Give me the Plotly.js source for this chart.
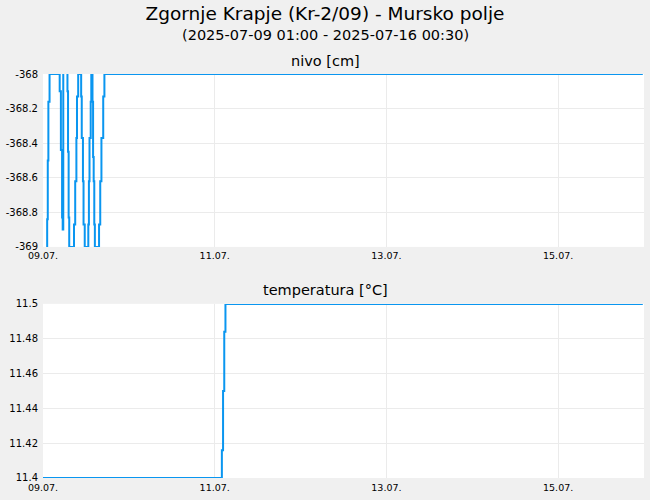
<!DOCTYPE html>
<html>
<head>
<meta charset="utf-8">
<script src="https://cdn.plot.ly/plotly-3.0.1.min.js"></script>
<style>
  html, body { margin: 0; padding: 0; background: #f0f0f0; }
  #chart { width: 650px; height: 500px; }
</style>
</head>
<body>
<div id="chart"></div>
<script>
// ── data ──
const nivoTime = [
  '2025-07-09 01:00', '2025-07-09 01:10', '2025-07-09 01:20', '2025-07-09 01:30', '2025-07-09 01:50',
  '2025-07-09 04:40', '2025-07-09 05:00', '2025-07-09 05:20', '2025-07-09 05:30', '2025-07-09 05:40',
  '2025-07-09 05:50',
  '2025-07-09 06:40', '2025-07-09 06:50', '2025-07-09 07:00', '2025-07-09 07:10', '2025-07-09 07:20',
  '2025-07-09 08:40', '2025-07-09 09:00', '2025-07-09 09:20', '2025-07-09 09:30', '2025-07-09 09:50',
  '2025-07-09 10:40', '2025-07-09 10:50', '2025-07-09 11:10', '2025-07-09 11:20', '2025-07-09 11:40',
  '2025-07-09 12:40', '2025-07-09 12:50', '2025-07-09 13:00', '2025-07-09 13:20', '2025-07-09 13:30',
  '2025-07-09 13:50', '2025-07-09 14:00', '2025-07-09 14:10', '2025-07-09 14:20', '2025-07-09 14:30',
  '2025-07-09 15:40', '2025-07-09 16:00', '2025-07-09 16:20', '2025-07-09 16:50', '2025-07-09 17:10',
  '2025-07-15 23:40'
];
const nivoVal = [
  -369, -368.84, -368.5, -368.16, -368,
  -368.1, -368.44, -368.83, -368.9, -368,
  null,
  -368, -368.1, -368.45, -368.83, -369,
  -368.87, -368.62, -368.37, -368.13, -368,
  -368.13, -368.37, -368.62, -368.87, -369,
  -368.87, -368.62, -368.37, -368.16, -368,
  -368.16, -368.48, -368.62, -368.87, -369,
  -368.87, -368.62, -368.37, -368.13, -368,
  -368
];

const tempTime = [
  '2025-07-09 00:00', '2025-07-11 02:00', '2025-07-11 02:20', '2025-07-11 02:40', '2025-07-11 03:00',
  '2025-07-15 23:40'
];
const tempVal = [11.4, 11.416, 11.45, 11.484, 11.5, 11.5];

const xTicks     = ['2025-07-09', '2025-07-11', '2025-07-13', '2025-07-15'];
const xTickText  = ['09.07.', '11.07.', '13.07.', '15.07.'];
const nivoTicks  = [-369, -368.8, -368.6, -368.4, -368.2, -368];
const nivoText   = ['-369', '-368.8', '-368.6', '-368.4', '-368.2', '-368'];
const tempTicks  = [11.4, 11.42, 11.44, 11.46, 11.48, 11.5];
const tempText   = ['11.4', '11.42', '11.44', '11.46', '11.48', '11.5'];

const LINE = '#0a96f0';
const GRID = '#ebebeb';
const FONT = 'DejaVu Sans, sans-serif';
const xRange = ['2025-07-09 00:00', '2025-07-16 00:00'];
// centre of the whole canvas, in paper units (plot area runs 43..644)
const MID = (325 - 43) / 601;

function xAxis(anchor) {
  return {
    anchor, type: 'date', range: xRange,
    tickvals: xTicks, ticktext: xTickText,
    showgrid: true, gridcolor: GRID, gridwidth: 1,
    zeroline: false, showline: false, ticks: '',
    ticklabelstandoff: 2,
    tickfont: { size: 9.5, color: '#000' },
  };
}

function yAxis(anchor, domain, range, vals, text) {
  return {
    anchor, domain, range,
    tickvals: vals, ticktext: text,
    showgrid: true, gridcolor: GRID, gridwidth: 1,
    zeroline: false, showline: false, ticks: '',
    ticklabelstandoff: 4,
    tickfont: { size: 10, color: '#000' },
  };
}

const traces = [
  {
    type: 'scatter', mode: 'lines', x: nivoTime, y: nivoVal,
    xaxis: 'x', yaxis: 'y', connectgaps: false,
    line: { color: LINE, width: 2, shape: 'hv' },
  },
  {
    type: 'scatter', mode: 'lines', x: tempTime, y: tempVal,
    xaxis: 'x2', yaxis: 'y2',
    line: { color: LINE, width: 2, shape: 'hv' },
  },
];

const layout = {
  width: 650, height: 500,
  paper_bgcolor: '#f0f0f0', plot_bgcolor: '#ffffff',
  font: { family: FONT, color: '#000' },
  showlegend: false,
  margin: { l: 43, r: 6, t: 74, b: 22 },
  title: {
    text: 'Zgornje Krapje (Kr-2/09) - Mursko polje',
    font: { size: 18.5, family: FONT, color: '#000' },
    x: 0.5, xanchor: 'center', y: 0.972, yanchor: 'middle',
  },
  xaxis: xAxis('y'),
  xaxis2: xAxis('y2'),
  yaxis: yAxis('x', [0.572, 1], [-369, -368], nivoTicks, nivoText),
  yaxis2: yAxis('x2', [0, 0.431], [11.4, 11.5], tempTicks, tempText),
  annotations: [
    { text: '(2025-07-09 01:00 - 2025-07-16 00:30)', xref: 'paper', yref: 'paper',
      x: MID, y: 1.097, xanchor: 'center', yanchor: 'middle', showarrow: false,
      font: { size: 14.5, family: FONT, color: '#000' } },
    { text: 'nivo [cm]', xref: 'paper', yref: 'paper',
      x: MID, y: 1.033, xanchor: 'center', yanchor: 'middle', showarrow: false,
      font: { size: 14.5, family: FONT, color: '#000' } },
    { text: 'temperatura [°C]', xref: 'paper', yref: 'paper',
      x: MID, y: 0.465, xanchor: 'center', yanchor: 'middle', showarrow: false,
      font: { size: 14.5, family: FONT, color: '#000' } },
  ],
};

Plotly.newPlot('chart', traces, layout, { displayModeBar: false, staticPlot: true });
</script>
</body>
</html>
